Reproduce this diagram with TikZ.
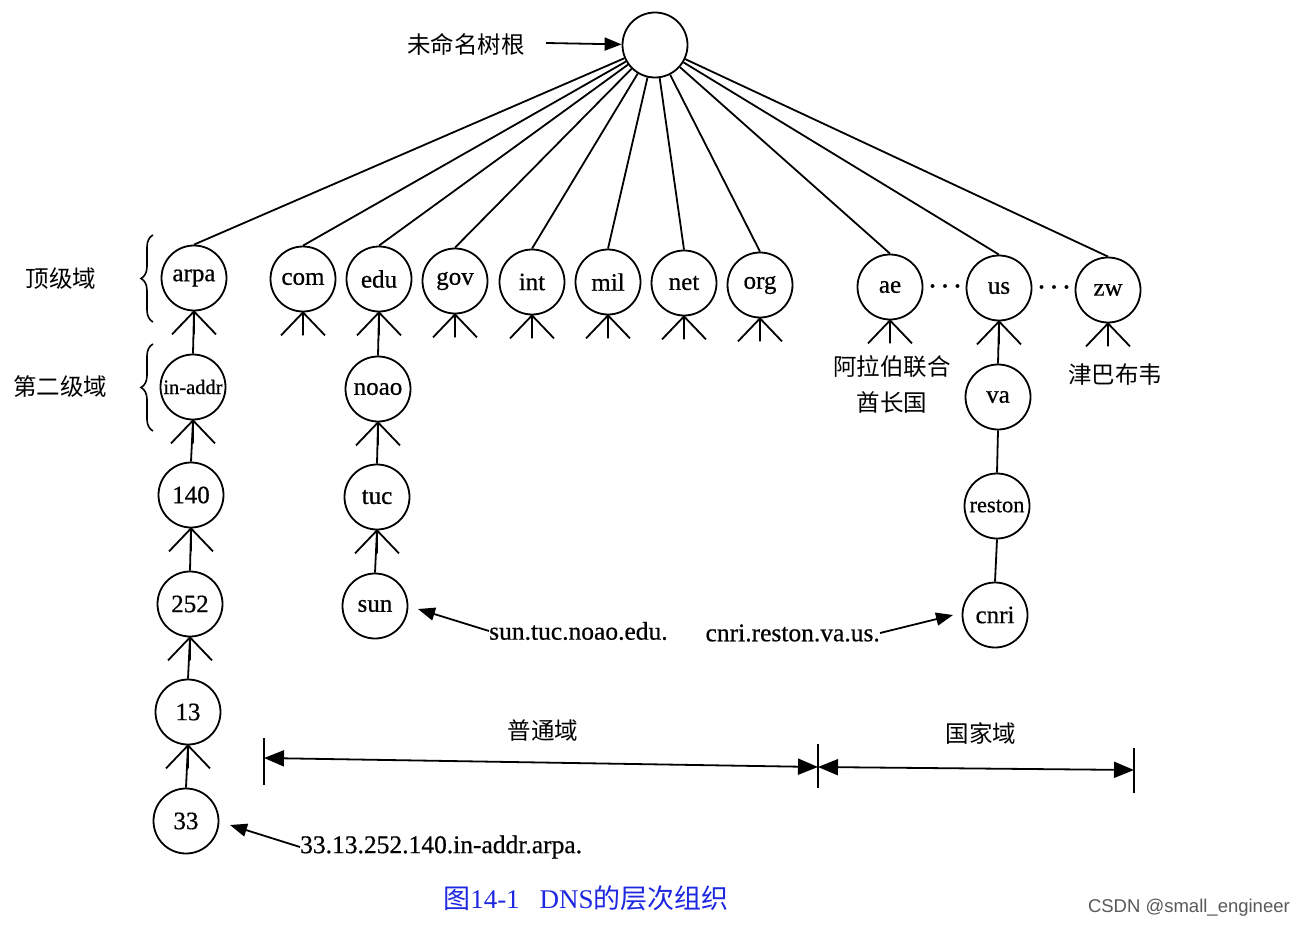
\documentclass[tikz,border=0pt]{standalone}
\usepackage{fontspec}
\setmainfont[FakeBold=0.6]{Liberation Serif}
\newfontfamily\capfont{Liberation Serif}
\newfontfamily\cjk{Noto Sans CJK SC}
\newfontfamily\wmfont{Liberation Sans}
\usetikzlibrary{decorations.pathreplacing,arrows.meta}
\definecolor{capblue}{RGB}{30,40,225}
\newcommand\forkat[1]{\draw[lnk] (#1.south) -- ++(-22,23) (#1.south) -- ++(22,23) (#1.south) -- ++(0,23);}
\begin{document}
\begin{tikzpicture}[x=1pt,y=-1pt,
  dn/.style={circle, draw, line width=1.8pt, minimum size=65pt, inner sep=0pt, font=\fontsize{25}{25}\selectfont},
  lnk/.style={line width=1.8pt},
  arr/.style={-{Triangle[length=17pt,width=13pt]}, line width=1.8pt},
  cn/.style={font=\cjk\fontsize{23.5}{36}\selectfont, align=center, inner sep=0pt},
  lbl/.style={font=\fontsize{25.5}{25}\selectfont, inner sep=0pt},
  brc/.style={decorate, decoration={brace, amplitude=12pt}, line width=1.6pt}]
\useasboundingbox (0,0) rectangle (1305,928);
\fill[white] (0,0) rectangle (1305,928);
% root
\node[dn] (root) at (655,45) {};
\node[cn] (rootlbl) at (466,44) {未命名树根};
\coordinate (rootarrs) at (546,43);
\draw[arr] (rootarrs) -- (root);
% top-level
\node[dn] (arpa) at (194,278) {arpa};
\node[dn] (com) at (303,279) {com};
\node[dn] (edu) at (379,279) {edu};
\node[dn] (gov) at (455,281) {gov};
\node[dn] (int) at (532,282) {int};
\node[dn] (mil) at (608,282) {mil};
\node[dn] (net) at (684,283) {net};
\node[dn] (org) at (760,285) {org};
\node[dn] (ae) at (890,287) {ae};
\node[dn] (us) at (999,288) {us};
\node[dn] (zw) at (1108,290) {zw};
\foreach \n in {arpa,com,edu,gov,int,mil,net,org,ae,us,zw}{
  \draw[lnk] (root) -- (\n.north);
  \forkat{\n}
}
\node[lbl, font=\fontsize{30}{30}\selectfont] (dots1) at (945,286) {.\,.\,.};
\node[lbl, font=\fontsize{30}{30}\selectfont] (dots2) at (1054,287) {.\,.\,.};
% arpa chain
\node[dn, font=\fontsize{20.5}{20}\selectfont] (inaddr) at (193,387) {in-addr};
\node[dn] (n140) at (191,495) {140};
\node[dn] (n252) at (190,604) {252};
\node[dn] (n13) at (188,712) {13};
\node[dn] (n33) at (186,821) {33};
\draw[lnk] (arpa.south) -- (inaddr.north);
\draw[lnk] (inaddr.south) -- (n140.north);
\draw[lnk] (n140.south) -- (n252.north);
\draw[lnk] (n252.south) -- (n13.north);
\draw[lnk] (n13.south) -- (n33.north);
\foreach \n in {inaddr,n140,n252,n13}{\forkat{\n}}
% edu chain
\node[dn] (noao) at (378,389) {noao};
\node[dn] (tuc) at (377,497) {tuc};
\node[dn] (sun) at (375,606) {sun};
\draw[lnk] (edu.south) -- (noao.north);
\draw[lnk] (noao.south) -- (tuc.north);
\draw[lnk] (tuc.south) -- (sun.north);
\foreach \n in {noao,tuc}{\forkat{\n}}
% us chain
\node[dn] (va) at (998,397) {va};
\node[dn, font=\fontsize{22.5}{22}\selectfont] (reston) at (997,506) {reston};
\node[dn] (cnri) at (995,615) {cnri};
\draw[lnk] (us.south) -- (va.north);
\draw[lnk] (va.south) -- (reston.north);
\draw[lnk] (reston.south) -- (cnri.north);
% country labels
\node[cn] (aelbl) at (892,384) {阿拉伯联合\\酋长国};
\node[cn] (zwlbl) at (1115,375) {津巴布韦};
% braces
\node[cn] (toplbl) at (61,279) {顶级域};
\node[cn] (seclbl) at (60,387) {第二级域};
\draw[brc] (153,322) -- (153,235);
\draw[brc] (153,431) -- (153,344);
% name labels
\node[lbl, anchor=west] (sunname) at (489,631) {sun.tuc.noao.edu.};
\coordinate (sunarr) at (418,609);
\draw[arr] (sunname.west) -- (sunarr);
\node[lbl, anchor=east] (cnriname) at (880,633) {cnri.reston.va.us.};
\coordinate (cnriarr) at (953,615);
\draw[arr] (cnriname.east) -- (cnriarr);
\node[lbl, anchor=west] (ipname) at (300,847) {33.13.252.140.in-addr.arpa.};
\coordinate (iparr) at (230,825);
\draw[arr] (ipname.west) -- (iparr);
% domain ranges
\coordinate (b1) at (264,758);
\coordinate (b2a) at (818,767);
\coordinate (b3) at (1134,770);
\draw[lnk] (264,738) -- (264,785);
\draw[lnk] (818,744) -- (818,788);
\draw[lnk] (1134,748) -- (1134,793);
\draw[line width=1.8pt, {Triangle[length=20pt,width=16pt]}-{Triangle[length=20pt,width=16pt]}] (b1) -- (b2a);
\draw[line width=1.8pt, {Triangle[length=20pt,width=16pt]}-{Triangle[length=20pt,width=16pt]}] (b2a) -- (b3);
\node[cn] (gen) at (543,731) {普通域};
\node[cn] (ctry) at (981,733) {国家域};
% caption
\node[inner sep=0pt, text=capblue, font=\capfont\fontsize{27}{27}\selectfont] (cap) at (586,898) {{\cjk 图}14-1\hspace{20pt}DNS{\cjk 的层次组织}};
\node[inner sep=0pt, text=black!65, font=\wmfont\fontsize{18.5}{18}\selectfont, anchor=east] (wm) at (1290,908) {CSDN @small\_engineer};
\end{tikzpicture}
\end{document}
